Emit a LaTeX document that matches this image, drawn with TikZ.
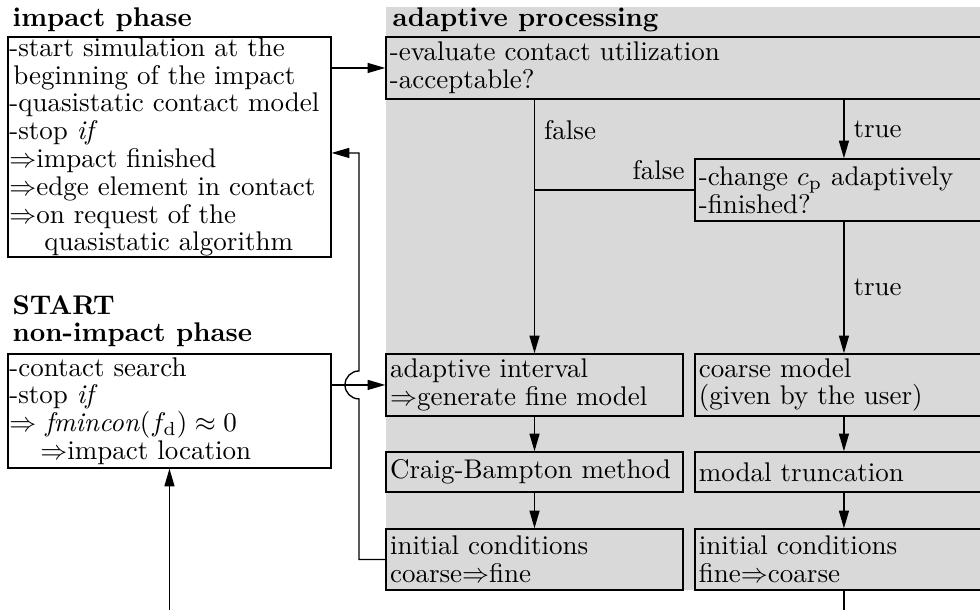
\documentclass[tikz,border=0pt]{standalone}
\usepackage{amsmath,amssymb}
\usepackage{tikz}
\usetikzlibrary{arrows.meta,calc}

\begin{document}
\begin{tikzpicture}[font=\fontsize{10}{10.3}\selectfont, line width=0.5pt,
  >={Triangle[length=0.23cm,width=0.13cm]},
  phasebox/.style={rectangle, draw, align=left, inner xsep=0.5pt, inner ysep=0pt, text width=4.169cm},
  procbox/.style={rectangle, draw, fill=gray!30, align=left, inner xsep=1.5pt, inner ysep=0pt, minimum height=0.807cm},
  phasetitle/.style={anchor=base west, inner xsep=0pt, font=\fontsize{10}{10.3}\selectfont\bfseries}]
\useasboundingbox (0,0) rectangle (12.757,7.94);
\clip (0,0) rectangle (12.757,7.94);
\fill[gray!30] (5.025,0.26) rectangle (12.757,7.849);

% left side: the two phases
\node[phasetitle] (impacttitle) at (0.156,7.589) {impact phase};
\node[phasebox, minimum height=2.864cm] (impact) at (2.206,6.027) {-start simulation at the\\\hspace*{1.5pt}beginning of the impact\\-quasistatic contact model\\-stop \textit{if}\\$\Rightarrow$impact finished\\$\Rightarrow$edge element in contact\\$\Rightarrow$on request of the\\\hspace*{13pt}quasistatic algorithm};
\node[phasetitle] (starttitle) at (0.156,3.84) {START};
\node[phasetitle] (nonimpacttitle) at (0.156,3.489) {non-impact phase};
\node[phasebox, minimum height=1.484cm] (nonimpact) at (2.206,2.59) {-contact search\\-stop \textit{if}\\$\Rightarrow$ \textit{fmincon}$(f_\mathrm{d})\approx 0$\\\hspace*{11.5pt}$\Rightarrow$impact location};

% right side: adaptive processing
\node[phasetitle] (adaptivetitle) at (5.103,7.589) {adaptive processing};
\node[procbox, text width=7.797cm] (evaluate) at (8.975,7.055) {-evaluate contact utilization\\-acceptable?};
\node[procbox, text width=3.775cm] (change) at (10.986,5.467) {-change $c_\mathrm{p}$ adaptively\\-finished?};
\node[procbox, text width=3.762cm] (interval) at (6.958,2.929) {adaptive interval\\$\Rightarrow$generate fine model};
\node[procbox, text width=3.775cm] (coarse) at (10.986,2.929) {coarse model\\(given by the user)};
\node[procbox, text width=3.762cm, minimum height=0.521cm] (craig) at (6.958,1.796) {Craig-Bampton method};
\node[procbox, text width=3.775cm, minimum height=0.521cm] (modal) at (10.986,1.796) {modal truncation};
\node[procbox, text width=3.762cm, minimum height=0.794cm] (initA) at (6.958,0.657) {initial conditions\\coarse$\Rightarrow$fine};
\node[procbox, text width=3.775cm, minimum height=0.794cm] (initB) at (10.986,0.657) {initial conditions\\fine$\Rightarrow$coarse};

\coordinate (fb) at (4.673,0);
\coordinate (bot) at (2.206,0);
\coordinate (impactin) at ($(impact.east)+(0,-0.078)$);

\draw[->] (impact.east |- evaluate.west) -- (evaluate.west);
\draw[->] (evaluate.south -| interval.north) -- node[pos=0.12, right] {false} (interval.north);
\draw[->] (evaluate.south -| change.north) -- node[right] {true} (change.north);
\draw (change.west) -- node[pos=0, above left] {false} (change.west -| interval.north);
\draw[->] (change.south) -- node[right] {true} (coarse.north);
\draw[->] (interval) -- (craig);
\draw[->] (craig) -- (initA);
\draw[->] (coarse) -- (modal);
\draw[->] (modal) -- (initB);
\draw (initB.south) -- (initB.south |- bot);
\draw[->] (bot) -- (nonimpact.south);
\draw[->] (nonimpact.east |- interval.west) -- (interval.west);
\draw[->] (initA.west) -- (initA.west -| fb) -- ($(fb |- interval.west)+(0,-0.182)$) arc[start angle=270, end angle=90, radius=0.182] -- (fb |- impactin) -- (impactin);
\end{tikzpicture}
\end{document}
